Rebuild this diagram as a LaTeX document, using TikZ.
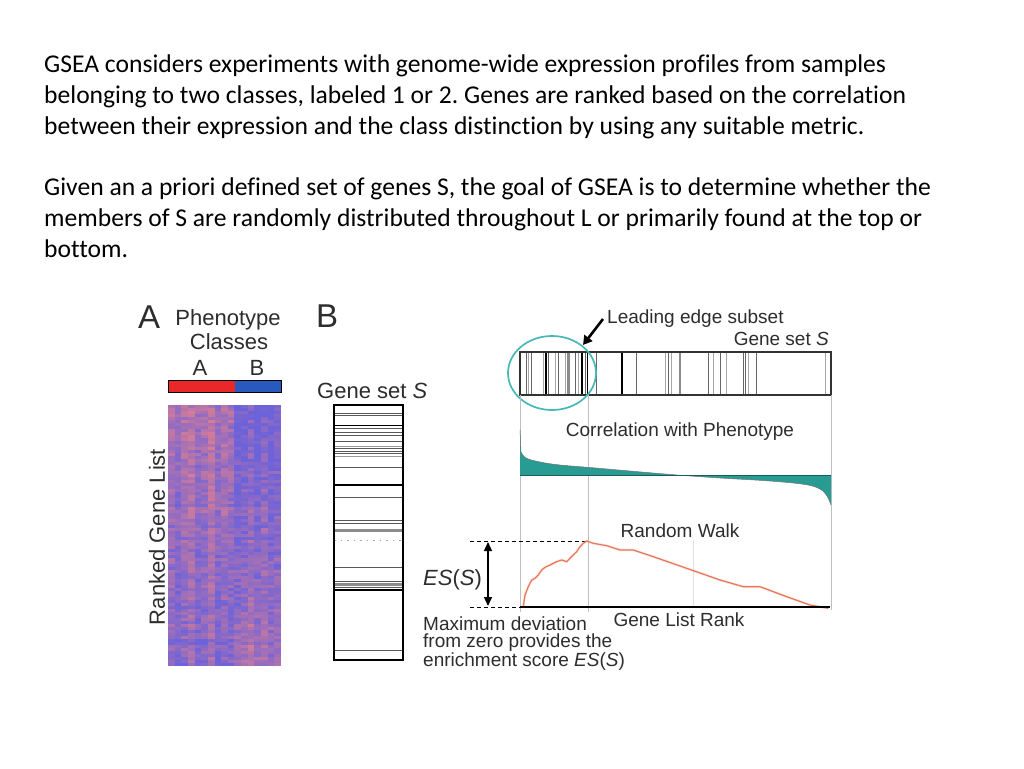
\documentclass[tikz,border=0pt]{standalone}
\usepackage{fontspec}
\setmainfont{Liberation Sans}
\newfontfamily\bodyfont[Ligatures=NoCommon]{Carlito}
\usetikzlibrary{arrows.meta}
\definecolor{hmred}{RGB}{238,112,112}
\definecolor{hmblue}{RGB}{84,72,212}
\definecolor{tealfill}{RGB}{40,156,146}
\definecolor{tealring}{RGB}{70,185,180}
\definecolor{walkred}{RGB}{232,118,88}
\definecolor{barred}{RGB}{235,40,40}
\definecolor{barblue}{RGB}{40,90,190}
\definecolor{figtext}{RGB}{45,45,45}
\frenchspacing
\begin{document}
\begin{tikzpicture}[x=1pt,y=-1pt,
  body/.style={anchor=base west,inner sep=0pt,font=\bodyfont\fontsize{25.6}{30}\selectfont},
  lab/.style={inner sep=0pt,text=figtext,font=\fontsize{19}{17}\selectfont},
  labL/.style={inner sep=0pt,text=figtext,font=\fontsize{22}{22}\selectfont},
  panel/.style={inner sep=0pt,text=figtext,font=\fontsize{33}{33}\selectfont},
  gsline/.style={draw=black!65,line width=0.8pt},
  gsdark/.style={draw=black,line width=1.5pt},
  gslight/.style={draw=black!40,line width=0.8pt},
  gsband/.style={draw=black!45,line width=2.6pt},
  gsdot/.style={draw=black!35,line width=0.8pt,dash pattern=on 1.5pt off 5pt},
  lemid/.style={draw=black!60,line width=0.9pt},
  ledark/.style={draw=black,line width=1.6pt},
  lelight/.style={draw=black!35,line width=0.9pt},
  leband/.style={draw=black!45,line width=2.6pt},
  guide/.style={draw=black!25,line width=0.7pt},
  dashln/.style={draw=black,line width=1pt,dash pattern=on 4pt off 3pt}
]
\useasboundingbox[fill=white] (0,0) rectangle (1024,768);

% ---------- top text ----------
\node[body] (t1) at (44,72) {GSEA considers experiments with genome-wide expression profiles from samples};
\node[body] (t2) at (44,103) {belonging to two classes, labeled 1 or 2. Genes are ranked based on the correlation};
\node[body] (t3) at (44,134) {between their expression and the class distinction by using any suitable metric.};
\node[body] (t4) at (44,195) {Given an a priori defined set of genes S, the goal of GSEA is to determine whether the};
\node[body] (t5) at (44,226) {members of S are randomly distributed throughout L or primarily found at the top or};
\node[body] (t6) at (44,257) {bottom.};

% ---------- panel A ----------
\node[panel,anchor=base west] (pA) at (138,328) {A};
\node[labL,anchor=base] (phen) at (228,325) {Phenotype};
\node[labL,anchor=base] (cls) at (229,349) {Classes};
\node[labL,anchor=base] (clA) at (200,375) {A};
\node[labL,anchor=base] (clB) at (257,375) {B};
\fill[barred] (168,380) rectangle (235,392);
\fill[barblue] (235,380) rectangle (281,392);
\draw[black,line width=1pt] (168,380) rectangle (281,392);

\pgfmathsetseed{12}
\foreach \j in {0,...,86}{
  \pgfmathsetmacro\rn{16*(rnd-0.5)}
  \foreach \i/\b in {0/4,1/-12,2/6,3/16,4/-6,5/2,6/20,7/-8,8/6,9/-2,10/-8,11/0,12/14,13/-6,14/10,15/-4,16/0}{
    \pgfmathtruncatemacro\p{max(0,min(100,((\i<10) ? (46-30*\j/86) : (2+38*\j/86)) + \b + \rn + 40*(rnd-0.5)))}
    \fill[hmred!\p!hmblue!86!white] ({168+\i*6.647},{405+\j*3}) rectangle ++(6.75,3.1);
  }
}
\node[labL,rotate=90] (rgl) at (157,537) {Ranked Gene List};

% ---------- panel B ----------
\node[panel,anchor=base west] (pB) at (316,327) {B};
\node[labL,anchor=base west] (gsB) at (317,398) {Gene set \textit{S}};
\foreach \y/\s in {413.6/gsline,415.5/gsline,425.6/gsdark,428.2/gsline,432/gsline,435.8/gsline,
  441.5/gsline,446.3/gslight,448.5/gsline,451/gsline,453.6/gsline,456/gslight,467/gsline,
  485/gsdark,497/gsline,520.3/gsline,523.5/gsline,530.4/gsband,540.6/gsdot,567/gsline,
  581.2/gsline,584.4/gsband,587.5/gsline,590/gsdark,650.5/gsline}{
  \draw[\s] (334,\y) -- (403,\y);
}
\draw[black,line width=1.4pt] (334,405) rectangle (403,660);

% ---------- panel right: gene set bar ----------
\node[lab,anchor=base west] (les) at (607,323) {Leading edge subset};
\node[lab,anchor=base east] (gsR) at (829,345) {Gene set \textit{S}};
\foreach \x/\s in {526.7/lemid,528.3/lelight,531.7/lemid,543.3/lelight,545.7/ledark,548.3/lemid,
  555/lelight,558.3/lemid,565/lelight,568.3/leband,575/lemid,578.3/lelight,581.7/ledark,585/lemid,
  587.3/ledark,596.7/lemid,621.7/ledark,636.7/lemid,665/lelight,668.3/lemid,671.7/lelight,
  680/leband,708.3/lemid,713.3/lelight,720/lemid,726.7/lelight,743.3/lemid,745.5/lemid,748.3/lelight,
  756.7/lemid,825/lelight}{
  \draw[\s] (\x,352) -- (\x,395);
}
\draw[black!80,line width=1.2pt] (520,352) rectangle (831,395);
\draw[tealring,line width=1.7pt] (552,373) ellipse [x radius=44,y radius=37];
\coordinate (arrS) at (603,319);
\coordinate (arrE) at (583,345);
\draw[black,line width=2.6pt,-{Triangle[length=9pt,width=10pt]}] (arrS) -- (arrE);

% guide lines
\draw[guide] (520,395) -- (520,612);
\draw[guide] (588,395) -- (588,612);
\draw[guide] (831,395) -- (831,610);
\draw[draw=black!12,line width=0.7pt] (693,540) -- (693,607);

% correlation
\node[lab,anchor=base] (corr) at (680,436) {Correlation with Phenotype};
\fill[tealfill] (520,475) -- (520,430) -- plot[smooth,tension=0.6] coordinates {(521,452) (526,458) (540,462) (560,465) (590,467.5) (630,471) (677,475) (720,478) (770,481) (805,484.5) (820,489) (827,496) (831,505)} -- (831,475) -- cycle;
\draw[black!55,line width=0.5pt] (520,430) -- plot[smooth,tension=0.6] coordinates {(521,452) (526,458) (540,462) (560,465) (590,467.5) (630,471) (677,475) (720,478) (770,481) (805,484.5) (820,489) (827,496) (831,505)};
\draw[tealfill!60!black,line width=0.6pt] (520,475) -- (831,475);

% random walk
\node[lab,anchor=base] (rw) at (680,537) {Random Walk};
\coordinate (esT) at (470,541);
\coordinate (esB) at (470,607);
\coordinate (pk) at (588,541);
\coordinate (b0) at (520,607);
\coordinate (b1) at (830,607);
\draw[dashln] (esT) -- (pk);
\draw[dashln] (esB) -- (b0);
\draw[walkred!50,line width=2.6pt,opacity=0.35,line join=round] plot coordinates {(523.3,606.7) (525,595) (528.3,586.7) (531.7,580) (535,578.3) (538.3,575) (541.7,570) (545,567.3) (550,565) (553.3,563.3) (556.7,561.7) (561.7,560) (566.7,561.7) (570,558.3) (573.3,555) (576.7,551.7) (580,546.7) (583.3,543.3) (586.7,541) (593.3,543.3) (606.7,545.7) (620,550) (633.3,550) (653.3,556.7) (686.7,568.3) (720,580) (743.3,586.7) (760,586.7) (786.7,596.7) (810,605) (828.3,608.3)};
\draw[walkred,line width=1.2pt,line join=round] plot coordinates {(523.3,606.7) (525,595) (528.3,586.7) (531.7,580) (535,578.3) (538.3,575) (541.7,570) (545,567.3) (550,565) (553.3,563.3) (556.7,561.7) (561.7,560) (566.7,561.7) (570,558.3) (573.3,555) (576.7,551.7) (580,546.7) (583.3,543.3) (586.7,541) (593.3,543.3) (606.7,545.7) (620,550) (633.3,550) (653.3,556.7) (686.7,568.3) (720,580) (743.3,586.7) (760,586.7) (786.7,596.7) (810,605) (828.3,608.3)};
\draw[black,line width=1.8pt] (b0) -- (b1);
\coordinate (aT) at (488,542);
\coordinate (aB) at (488,606);
\draw[black,line width=1.4pt,{Triangle[length=9pt,width=8pt]}-{Triangle[length=9pt,width=8pt]}] (aT) -- (aB);
\node[labL,anchor=base west] (es) at (423,585) {\textit{ES}(\textit{S})};
\node[lab,anchor=base] (glr) at (679,626) {Gene List Rank};
\node[lab,anchor=base west,align=left,font=\fontsize{19}{17}\selectfont] (mdev) at (423,666) {Maximum deviation\\from zero provides the\\enrichment score \textit{ES}(\textit{S})};
\end{tikzpicture}
\end{document}
